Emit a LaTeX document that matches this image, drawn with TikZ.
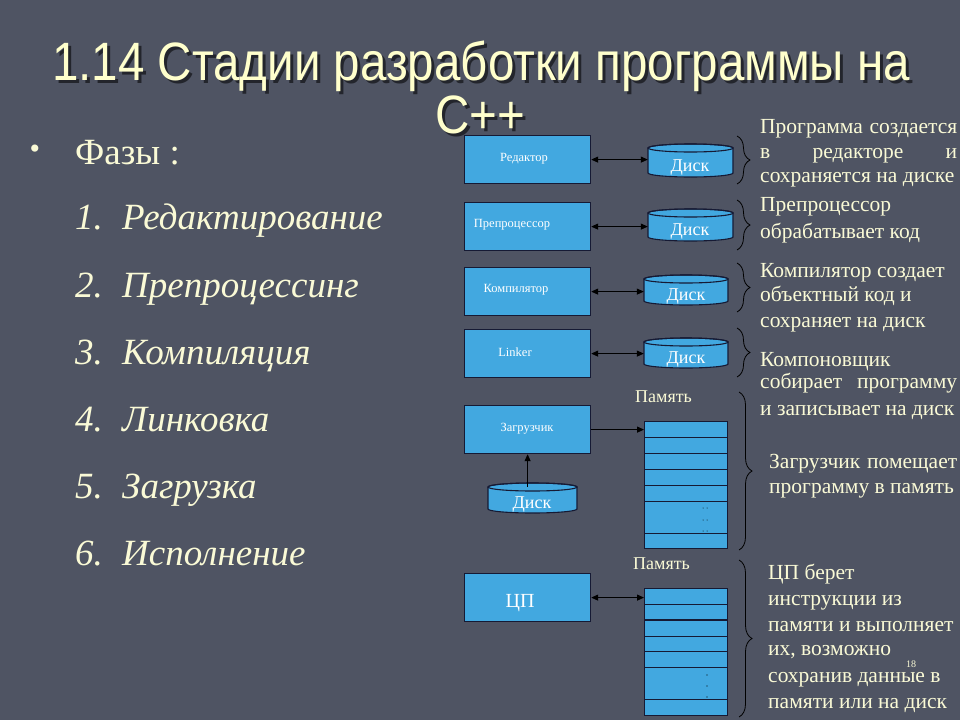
\documentclass[tikz,border=0pt]{standalone}
\usepackage{fontspec}
\setmainfont{Liberation Serif}
\newfontfamily\titlefont[FakeStretch=0.88]{Liberation Sans}
\usetikzlibrary{decorations.pathreplacing,arrows.meta,fit}
\definecolor{bg}{RGB}{79,84,99}
\definecolor{boxblue}{RGB}{66,168,224}
\definecolor{navy}{RGB}{22,26,52}
\definecolor{cream}{RGB}{250,250,214}
\definecolor{titlecol}{RGB}{255,255,204}
\tikzset{
 stagebox/.style={draw=navy, line width=1.2pt, fill=boxblue, minimum width=126pt, minimum height=48pt, inner sep=0pt, anchor=north west},
 membox/.style={draw=navy, line width=1.2pt, fill=boxblue, minimum width=83pt, minimum height=127pt, inner sep=0pt, anchor=north west},
 boxlabel/.style={text=white, font=\fontsize{12.5}{14}\selectfont, inner sep=0pt},
 disklabel/.style={text=white, font=\fontsize{18}{20}\selectfont, inner sep=0pt},
 memlabel/.style={text=cream, font=\fontsize{18}{20}\selectfont, inner sep=0pt, anchor=base west},
 desc/.style={text=cream, font=\fontsize{21.5}{24}\selectfont, anchor=base west, inner sep=0pt},
 listitem/.style={text=cream, font=\fontsize{37}{42}\selectfont\itshape, anchor=base west, inner sep=0pt},
 tip/.tip={Triangle[length=7pt,width=6pt]},
 link/.style={line width=1.1pt, black, -tip},
 dlink/.style={line width=1.1pt, black, tip-tip},
 bracestyle/.style={decorate, decoration={brace, amplitude=13pt}, line width=0.8pt, black},
 memline/.style={draw=navy, line width=1pt},
}
\newcommand\DrawDisk[5]{%
  \coordinate (#1-nw) at (#2,#3);
  \coordinate (#1-se) at (#4,#5);
  \node[fit=(#1-nw)(#1-se), inner sep=0pt] (#1) {};
  \pgfmathsetmacro\diskrx{(#4-#2)/2}
  \pgfmathsetmacro\diskcx{(#4+#2)/2}
  \filldraw[fill=boxblue, draw=navy, line width=1.1pt] (#2,#3+4) -- (#2,#5-4)
     arc[start angle=180, end angle=360, x radius=\diskrx pt, y radius=4pt]
     -- (#4,#3+4)
     arc[start angle=0, end angle=180, x radius=\diskrx pt, y radius=4pt] -- cycle;
  \draw[navy, line width=1.1pt] (\diskcx,#3+4) ellipse [x radius=\diskrx pt, y radius=4pt];
}
\begin{document}
\begin{tikzpicture}[x=1pt,y=-1pt]
\fill[bg] (0,0) rectangle (960,720);
\useasboundingbox (0,0) rectangle (960,720);

% title
\node[font=\titlefont\fontsize{54}{60}\selectfont, text=black, opacity=0.55, anchor=base] (title1s) at (484,83) {1.14 Стадии разработки программы на};
\node[font=\titlefont\fontsize{54}{60}\selectfont, text=titlecol, anchor=base] (title1) at (481,80) {1.14 Стадии разработки программы на};
\node[font=\titlefont\fontsize{54}{60}\selectfont, text=black, opacity=0.55, anchor=base] (title2s) at (483,136) {C++};
\node[font=\titlefont\fontsize{54}{60}\selectfont, text=titlecol, anchor=base] (title2) at (480,133) {C++};

% left list
\node[text=cream, font=\fontsize{30}{30}\selectfont, inner sep=0pt] (bul) at (35,152) {•};
\node[text=cream, font=\fontsize{37}{42}\selectfont, anchor=base west, inner sep=0pt] (phases) at (75,164) {Фазы :};
\node[listitem] (n1) at (75,229) {1.};
\node[listitem] (i1) at (122,229) {Редактирование};
\node[listitem] (n2) at (75,297) {2.};
\node[listitem] (i2) at (122,297) {Препроцессинг};
\node[listitem] (n3) at (75,364) {3.};
\node[listitem] (i3) at (122,364) {Компиляция};
\node[listitem] (n4) at (75,431) {4.};
\node[listitem] (i4) at (122,431) {Линковка};
\node[listitem] (n5) at (75,498) {5.};
\node[listitem] (i5) at (122,498) {Загрузка};
\node[listitem] (n6) at (75,565) {6.};
\node[listitem] (i6) at (122,565) {Исполнение};

% stage boxes
\node[stagebox] (bx1) at (464,135) {};
\node[stagebox] (bx2) at (464,202) {};
\node[stagebox] (bx3) at (464,267) {};
\node[stagebox] (bx4) at (464,329) {};
\node[stagebox] (bx5) at (464,405) {};
\node[stagebox] (bx6) at (464,573) {};
\node[boxlabel] (lb1) at (524,159) {Редактор};
\node[boxlabel] (lb2) at (512,225) {Препроцессор};
\node[boxlabel] (lb3) at (516,290) {Компилятор};
\node[boxlabel] (lb4) at (515,352) {Linker};
\node[boxlabel] (lb5) at (527,429) {Загрузчик};
\node[text=white, font=\fontsize{20}{22}\selectfont, inner sep=0pt] (lb6) at (520,603) {ЦП};

% disks
\DrawDisk{d1}{648}{144}{733}{177}
\DrawDisk{d2}{648}{209}{733}{241}
\DrawDisk{d3}{644}{275}{728}{305}
\DrawDisk{d4}{644}{338}{728}{368}
\DrawDisk{d5}{488}{483}{577}{513}
\node[disklabel] (dl1) at (690,168) {Диск};
\node[disklabel] (dl2) at (690,232) {Диск};
\node[disklabel] (dl3) at (686,297) {Диск};
\node[disklabel] (dl4) at (686,360) {Диск};
\node[disklabel] (dl5) at (532,505) {Диск};

% memories
\node[membox] (mem1) at (644,421) {};
\foreach \yy in {437,453,469,485,501,533} \draw[memline] (644,\yy) -- (727,\yy);
\foreach \yy in {508,520,531} {\fill[black] (703,\yy) circle[radius=0.5pt]; \fill[black] (707,\yy) circle[radius=0.5pt];}
\node[membox] (mem2) at (644,588) {};
\foreach \yy in {604,636,651,667,699} \draw[memline] (644,\yy) -- (727,\yy);
\draw[draw=navy, line width=1.8pt] (644,620) -- (727,620);
\foreach \yy in {675,686,697} \fill[black] (707,\yy) circle[radius=0.55pt];
\node[memlabel] (ml1) at (635,402) {Память};
\node[memlabel] (ml2) at (633,569) {Память};

% connectors
\draw[dlink] (bx1.east) -- (bx1.east -| d1.west);
\draw[dlink] (bx2.east) -- (bx2.east -| d2.west);
\draw[dlink] (bx3.east) -- (bx3.east -| d3.west);
\draw[dlink] (bx4.east) -- (bx4.east -| d4.west);
\draw[link] (bx5.east) -- (bx5.east -| mem1.west);
\draw[link] ([yshift=-4pt]bx5.south |- d5.north) -- (bx5.south);
\draw[dlink] (bx6.east) -- (bx6.east -| mem2.west);

% braces
\coordinate (br1a) at (737,136); \coordinate (br1b) at (737,184);
\coordinate (br2a) at (737,200); \coordinate (br2b) at (737,250);
\coordinate (br3a) at (737,263); \coordinate (br3b) at (737,312);
\coordinate (br4a) at (737,328); \coordinate (br4b) at (737,377);
\coordinate (br5a) at (739,392); \coordinate (br5b) at (739,550);
\coordinate (br6a) at (739,560); \coordinate (br6b) at (739,717);
\draw[bracestyle] (br1a) -- (br1b);
\draw[bracestyle] (br2a) -- (br2b);
\draw[bracestyle] (br3a) -- (br3b);
\draw[bracestyle] (br4a) -- (br4b);
\draw[bracestyle] (br5a) -- (br5b);
\draw[bracestyle] (br6a) -- (br6b);

% descriptions
\node[desc] (r1) at (760,133) {\makebox[197pt][s]{Программа создается}};
\node[desc] (r2) at (760,158) {\makebox[197pt][s]{в редакторе и}};
\node[desc] (r3) at (760,182) {сохраняется на диске};
\node[desc] (r4) at (760,211) {Препроцессор};
\node[desc] (r5) at (760,238) {обрабатывает код};
\node[desc] (r6) at (760,277) {Компилятор создает};
\node[desc] (r7) at (760,301) {объектный код и};
\node[desc] (r8) at (760,327) {сохраняет на диск};
\node[desc] (r9) at (760,366) {Компоновщик};
\node[desc] (r10) at (760,388) {\makebox[197pt][s]{собирает программу}};
\node[desc] (r11) at (760,415) {и записывает на диск};
\node[desc] (r12) at (769,468) {\makebox[188pt][s]{Загрузчик помещает}};
\node[desc] (r13) at (769,493) {программу в память};
\node[desc] (r14) at (768,579) {ЦП берет};
\node[desc] (r15) at (768,605) {инструкции из};
\node[desc] (r16) at (768,631) {памяти и выполняет};
\node[desc] (r17) at (768,655) {их, возможно};
\node[desc] (r18) at (768,682) {сохранив данные в};
\node[desc] (r19) at (768,708) {памяти или на диск};

% slide number
\node[text=cream, font=\fontsize{10}{12}\selectfont, inner sep=0pt] (pgnum) at (911,664) {18};
\end{tikzpicture}
\end{document}
